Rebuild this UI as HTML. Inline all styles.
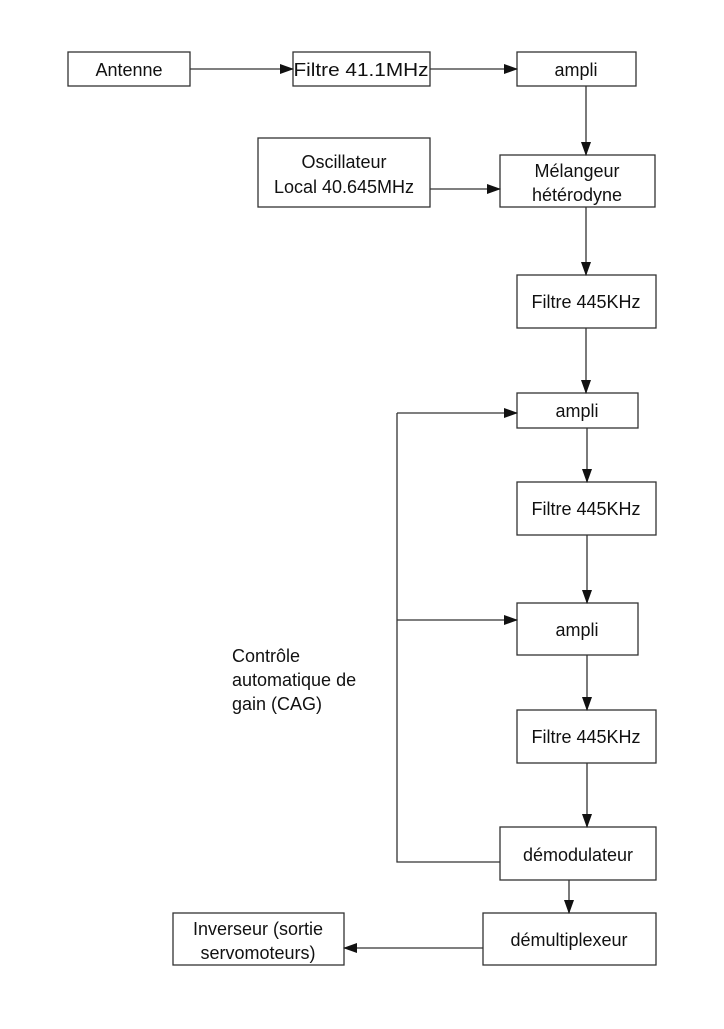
<!DOCTYPE html>
<html><head><meta charset="utf-8"><style>
html,body{margin:0;padding:0;background:#fff;}
svg text{font-family:"Liberation Sans",sans-serif;font-size:18px;fill:#111;}
</style></head><body>
<svg width="724" height="1024" viewBox="0 0 724 1024" xmlns="http://www.w3.org/2000/svg">
<defs><marker id="a" markerWidth="14" markerHeight="10" refX="13" refY="5" orient="auto" markerUnits="userSpaceOnUse"><path d="M0,0 L14,5 L0,10 Z" fill="#111"/></marker></defs>
<g fill="#fff" stroke="#333" stroke-width="1.3">
<rect x="68" y="52" width="122" height="34"/>
<rect x="293" y="52" width="137" height="34"/>
<rect x="517" y="52" width="119" height="34"/>
<rect x="258" y="138" width="172" height="69"/>
<rect x="500" y="155" width="155" height="52"/>
<rect x="517" y="275" width="139" height="53"/>
<rect x="517" y="393" width="121" height="35"/>
<rect x="517" y="482" width="139" height="53"/>
<rect x="517" y="603" width="121" height="52"/>
<rect x="517" y="710" width="139" height="53"/>
<rect x="500" y="827" width="156" height="53"/>
<rect x="483" y="913" width="173" height="52"/>
<rect x="173" y="913" width="171" height="52"/>
</g>
<g stroke="#333" stroke-width="1.3" fill="none">
<line x1="190" y1="69" x2="293" y2="69" marker-end="url(#a)"/>
<line x1="430" y1="69" x2="517" y2="69" marker-end="url(#a)"/>
<line x1="586" y1="86" x2="586" y2="155" marker-end="url(#a)"/>
<line x1="430" y1="189" x2="500" y2="189" marker-end="url(#a)"/>
<line x1="586" y1="207" x2="586" y2="275" marker-end="url(#a)"/>
<line x1="586" y1="328" x2="586" y2="393" marker-end="url(#a)"/>
<line x1="587" y1="428" x2="587" y2="482" marker-end="url(#a)"/>
<line x1="587" y1="535" x2="587" y2="603" marker-end="url(#a)"/>
<line x1="587" y1="655" x2="587" y2="710" marker-end="url(#a)"/>
<line x1="587" y1="763" x2="587" y2="827" marker-end="url(#a)"/>
<line x1="569" y1="880" x2="569" y2="913" marker-end="url(#a)"/>
<line x1="483" y1="948" x2="344" y2="948" marker-end="url(#a)"/>
<polyline points="500,862 397,862 397,413"/>
<line x1="397" y1="413" x2="517" y2="413" marker-end="url(#a)"/>
<line x1="397" y1="620" x2="517" y2="620" marker-end="url(#a)"/>
</g>
<g text-anchor="middle">
<text x="129" y="76">Antenne</text>
<text x="361" y="76" textLength="135" lengthAdjust="spacingAndGlyphs">Filtre 41.1MHz</text>
<text x="576" y="76">ampli</text>
<text x="344" y="168">Oscillateur</text>
<text x="344" y="193">Local 40.645MHz</text>
<text x="577" y="177">Mélangeur</text>
<text x="577" y="201">hétérodyne</text>
<text x="586" y="308">Filtre 445KHz</text>
<text x="577" y="417">ampli</text>
<text x="586" y="515">Filtre 445KHz</text>
<text x="577" y="636">ampli</text>
<text x="586" y="743">Filtre 445KHz</text>
<text x="578" y="861">démodulateur</text>
<text x="569" y="946">démultiplexeur</text>
<text x="258" y="935">Inverseur (sortie</text>
<text x="258" y="959">servomoteurs)</text>
</g>
<text x="232" y="662">Contrôle</text>
<text x="232" y="686">automatique de</text>
<text x="232" y="710">gain (CAG)</text>
</svg>
</body></html>
